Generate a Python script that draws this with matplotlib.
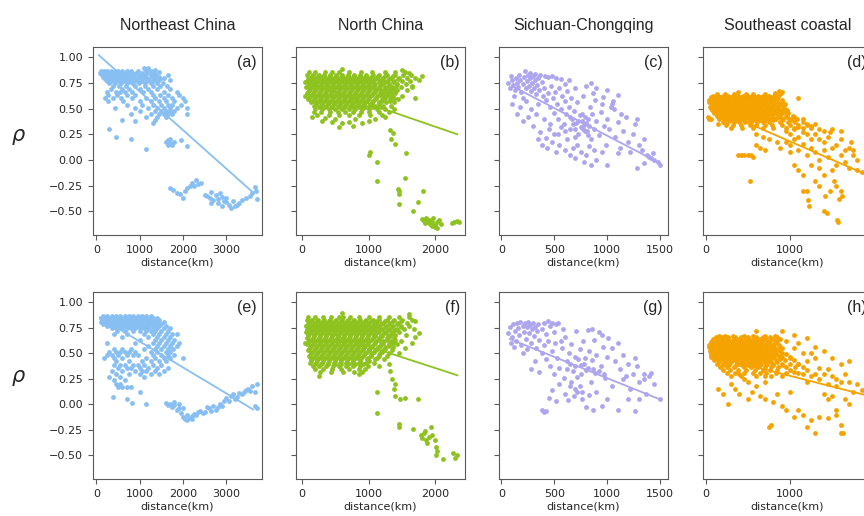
import numpy as np
import matplotlib.pyplot as plt

# ---------------------------------------------------------
# Data: rho vs distance (km)
# rows_* : (rho, [distances]) groups, pts_* : single (distance, rho) points
# ---------------------------------------------------------

titles = ["Northeast China", "North China", "Sichuan-Chongqing", "Southeast coastal"]
letters = ["(a)", "(b)", "(c)", "(d)", "(e)", "(f)", "(g)", "(h)"]
colors = ["#88BFF2", "#8DC21F", "#ADA5EE", "#F5A300"]

xlims = [(-77, 3823), (-89, 2447), (-23, 1578), (-32, 1973)]
xticks = [[0, 1000, 2000, 3000], [0, 1000, 2000], [0, 500, 1000, 1500], [0, 1000]]
yticks = [-0.5, -0.25, 0.0, 0.25, 0.5, 0.75, 1.0]

# --- (a) Northeast China, top row
rows_a = [
    (0.87, [100, 170, 240, 330, 420, 510, 600, 700, 800, 950, 1150, 1250]),
    (0.85, [90, 150, 220, 290, 370, 450, 540, 630, 720, 820, 920, 1050, 1180, 1320]),
    (0.83, [120, 190, 260, 340, 410, 480, 560, 650, 740, 850, 980, 1100, 1250, 1380]),
    (0.81, [160, 230, 300, 380, 460, 530, 610, 700, 790, 900, 1020, 1150, 1300, 1450]),
    (0.79, [200, 280, 350, 430, 510, 590, 680, 760, 870, 960, 1080, 1210, 1350, 1480]),
    (0.77, [240, 330, 420, 520, 640, 730, 820, 930, 1050, 1180, 1300, 1420]),
    (0.75, [300, 420, 560, 700, 850, 990, 1130, 1270, 1400, 1530]),
    (0.72, [380, 520, 680, 900, 1120, 1300, 1480, 1620]),
    (0.69, [330, 600, 760, 1000, 1200, 1400, 1700]),
    (0.66, [250, 450, 550, 650, 820, 1080, 1250, 1550, 1850]),
    (0.63, [280, 480, 700, 900, 1300, 1480, 1650, 1900]),
    (0.60, [200, 380, 560, 820, 1150, 1350, 1550, 1750, 2000]),
    (0.57, [260, 620, 1000, 1250, 1450, 1600, 1800, 2050]),
    (0.54, [700, 1050, 1300, 1500, 1650, 1750, 1950]),
    (0.51, [420, 900, 1200, 1400, 1550, 1700, 1850, 2100]),
    (0.48, [1000, 1350, 1500, 1600, 1700, 1800]),
    (0.45, [800, 1250, 1450, 1550, 1650, 1750, 2100]),
    (0.42, [1150, 1400, 1600]),
    (0.39, [600, 1350]),
    (0.36, [1300]),
]
pts_a = [
    (1100, 0.90), (1200, 0.90), (1350, 0.88), (1450, 0.86), (1650, 0.83), (1700, 0.78), (1550, 0.80),
    (300, 0.30), (450, 0.22), (800, 0.20), (1150, 0.11), (900, 0.38),
    (1600, 0.18), (1650, 0.15), (1700, 0.17), (1750, 0.15), (1800, 0.18), (1700, 0.20), (1950, 0.19),
    (2100, 0.14), (1650, 0.19),
    (1700, -0.27), (1780, -0.29), (1850, -0.32), (1930, -0.33), (2000, -0.37), (2050, -0.30),
    (2100, -0.27), (2150, -0.25), (2200, -0.22), (2250, -0.25), (2300, -0.19), (2350, -0.23),
    (2420, -0.22), (2500, -0.34), (2560, -0.35), (2620, -0.37), (2650, -0.31), (2700, -0.39),
    (2750, -0.34), (2800, -0.38), (2850, -0.32), (2900, -0.36), (2950, -0.40), (3000, -0.37),
    (3050, -0.44), (3100, -0.47), (3150, -0.40), (3200, -0.45), (3250, -0.44), (3300, -0.42),
    (3350, -0.39), (3450, -0.37), (3550, -0.35), (3600, -0.32), (3650, -0.26), (3700, -0.38),
    (3680, -0.30), (2900, -0.45), (3000, -0.41), (2800, -0.42), (2650, -0.42),
]
fit_a = ([60, 3600], [1.02, -0.31])

# --- (b) North China, top row
rows_b = [
    (0.86, [100, 200, 340, 450, 560, 700, 880, 1050, 1250, 1400, 1550]),
    (0.83, [80, 160, 250, 330, 420, 510, 600, 690, 780, 870, 960, 1060, 1160, 1280, 1400, 1520, 1630]),
    (0.815, [145, 235, 325, 415, 505, 595, 685, 775, 865, 955, 1045, 1145, 1245, 1365]),
    (0.80, [120, 210, 300, 390, 480, 570, 660, 750, 840, 930, 1020, 1120, 1220, 1330, 1450, 1580, 1700]),
    (0.785, [95, 185, 275, 365, 455, 545, 635, 725, 815, 905, 995, 1095, 1195, 1300, 1440]),
    (0.77, [70, 160, 250, 340, 430, 520, 610, 700, 790, 880, 970, 1070, 1170, 1270, 1380, 1500, 1620]),
    (0.755, [135, 225, 315, 405, 495, 585, 675, 765, 855, 945, 1040, 1150, 1250, 1360]),
    (0.74, [110, 200, 290, 380, 470, 560, 650, 740, 830, 920, 1010, 1100, 1200, 1300, 1420, 1560]),
    (0.725, [85, 175, 265, 355, 445, 535, 625, 715, 805, 895, 985, 1075, 1175, 1300, 1410]),
    (0.71, [60, 150, 240, 330, 420, 510, 600, 690, 780, 870, 960, 1050, 1150, 1250, 1350, 1480, 1650]),
    (0.695, [125, 215, 305, 395, 485, 575, 665, 755, 845, 935, 1025, 1120, 1240, 1360]),
    (0.68, [100, 190, 280, 370, 460, 550, 640, 730, 820, 910, 1000, 1090, 1190, 1300, 1420, 1580]),
    (0.665, [95, 185, 275, 365, 455, 545, 635, 725, 815, 905, 995, 1090, 1220, 1340]),
    (0.65, [80, 170, 260, 350, 440, 530, 620, 710, 800, 890, 980, 1070, 1170, 1280, 1400]),
    (0.635, [145, 235, 325, 415, 505, 595, 685, 775, 865, 955, 1050, 1170, 1290]),
    (0.62, [120, 210, 300, 390, 480, 570, 660, 750, 840, 930, 1020, 1120, 1230, 1350, 1500]),
    (0.605, [105, 195, 285, 375, 465, 555, 645, 735, 825, 915, 1005, 1110, 1250, 1380]),
    (0.59, [90, 180, 270, 360, 450, 540, 630, 720, 810, 900, 990, 1090, 1200, 1320, 1440]),
    (0.575, [165, 255, 345, 435, 525, 615, 705, 795, 885, 975, 1070, 1200, 1320]),
    (0.56, [140, 230, 320, 410, 500, 590, 680, 770, 860, 950, 1050, 1150, 1260, 1380]),
    (0.545, [205, 295, 385, 475, 565, 655, 745, 835, 925, 1030, 1160]),
    (0.53, [180, 270, 360, 450, 540, 630, 720, 810, 900, 1000, 1100, 1220, 1330]),
    (0.515, [250, 350, 450, 550, 650, 750, 850, 950, 1060, 1190]),
    (0.50, [200, 300, 400, 500, 600, 700, 800, 900, 1000, 1120, 1250, 1380]),
    (0.47, [180, 290, 420, 540, 650, 760, 880, 1000, 1150, 1300]),
    (0.44, [230, 400, 560, 700, 850, 1020, 1200]),
]
pts_b = [
    (1750, 0.78), (1700, 0.60), (1650, 0.72), (1600, 0.85), (1500, 0.88), (600, 0.89), (1800, 0.82),
    (50, 0.76), (40, 0.62),
    (300, 0.38), (450, 0.37), (500, 0.40), (600, 0.36), (700, 0.37), (800, 0.40), (900, 0.36),
    (350, 0.41), (1000, 0.38), (1100, 0.40), (1250, 0.42), (550, 0.32), (760, 0.33), (150, 0.42),
    (1320, 0.29), (1360, 0.26), (1390, 0.16), (1330, 0.20), (1560, 0.07), (1000, 0.05), (1020, 0.08),
    (1120, -0.02), (1120, -0.20), (1450, -0.30), (1460, -0.33), (1440, -0.28), (1450, -0.43),
    (1550, -0.18), (1740, -0.41), (1660, -0.50), (1810, -0.30),
    (1800, -0.57), (1830, -0.59), (1860, -0.56), (1880, -0.60), (1900, -0.58), (1920, -0.62),
    (1950, -0.60), (1970, -0.56), (2000, -0.63), (2020, -0.60), (2050, -0.58), (2030, -0.66),
    (2000, -0.65), (1950, -0.64), (1850, -0.61), (2080, -0.62), (2250, -0.61), (2280, -0.60),
    (2320, -0.59), (2350, -0.60),
]
fit_b = ([50, 2333], [0.76, 0.25])

# --- (c) Sichuan-Chongqing, top row
rows_c = []
pts_c = [
    (60, 0.75), (80, 0.70), (100, 0.78), (110, 0.73), (130, 0.68), (140, 0.80), (150, 0.75), (160, 0.71),
    (170, 0.83), (180, 0.78), (190, 0.66), (200, 0.74), (210, 0.81), (220, 0.87), (230, 0.70), (240, 0.77),
    (250, 0.83), (260, 0.72), (270, 0.80), (280, 0.67), (290, 0.75), (300, 0.82), (310, 0.70), (320, 0.78),
    (330, 0.64), (340, 0.73), (350, 0.80), (360, 0.68), (380, 0.76), (390, 0.62), (120, 0.62), (90, 0.82),
    (200, 0.60), (270, 0.85), (320, 0.84), (370, 0.83), (410, 0.82), (440, 0.81), (480, 0.82), (520, 0.80),
    (560, 0.79), (600, 0.74), (640, 0.78),
    (400, 0.70), (420, 0.58), (440, 0.65), (460, 0.52), (470, 0.72), (490, 0.60), (500, 0.46), (510, 0.66),
    (530, 0.55), (540, 0.40), (550, 0.70), (560, 0.50), (570, 0.62), (590, 0.35), (600, 0.57), (610, 0.45),
    (620, 0.67), (640, 0.52), (650, 0.30), (660, 0.60), (670, 0.40), (690, 0.48), (700, 0.70), (710, 0.36),
    (720, 0.56), (730, 0.25), (740, 0.44), (750, 0.32), (760, 0.38), (770, 0.30), (780, 0.34), (790, 0.42),
    (800, 0.36), (810, 0.28), (820, 0.40), (830, 0.33), (840, 0.52), (850, 0.20), (860, 0.45), (870, 0.65),
    (880, 0.30), (890, 0.58), (900, 0.38), (770, 0.62), (800, 0.72), (850, 0.75), (900, 0.70), (920, 0.24),
    (940, 0.47), (960, 0.61), (970, 0.33), (990, 0.15), (1000, 0.40),
    (100, 0.55), (150, 0.45), (180, 0.52), (200, 0.38), (230, 0.57), (250, 0.42), (280, 0.50), (300, 0.33),
    (330, 0.45), (350, 0.55), (370, 0.27), (400, 0.40), (420, 0.21), (450, 0.30), (480, 0.18), (350, 0.20),
    (380, 0.15), (500, 0.25), (430, 0.12), (460, 0.35), (520, 0.08), (550, 0.15), (600, 0.10), (620, 0.20),
    (650, 0.05), (680, 0.12), (700, 0.02), (720, 0.15), (750, 0.08), (780, -0.02), (800, 0.05), (830, 0.14),
    (850, -0.05), (880, 0.10), (900, 0.00), (950, 0.08), (1000, -0.05),
    (1020, 0.30), (1040, 0.52), (1050, 0.55), (1060, 0.57), (1070, 0.50), (1080, 0.22), (1100, 0.37),
    (1120, 0.12), (1150, 0.28), (1180, 0.42), (1200, 0.18), (1220, 0.08), (1250, 0.25), (1270, 0.35),
    (1280, 0.40), (1300, 0.15), (1330, 0.10), (1350, 0.20), (1380, 0.05), (1400, 0.03), (1420, 0.02),
    (1450, 0.00), (1480, -0.02), (1500, -0.05), (1440, 0.07), (1350, -0.03), (1280, -0.08), (1100, 0.07),
    (1130, 0.45), (950, 0.55), (1000, 0.68), (1100, 0.63),
    (650, 0.42), (700, 0.30), (730, 0.38), (760, 0.45), (790, 0.28), (820, 0.24), (700, 0.22), (680, 0.35),
    (600, 0.28), (560, 0.32), (540, 0.25),
]
fit_c = ([100, 1500], [0.72, -0.03])

# --- (d) Southeast coastal, top row
rows_d = [
    (0.64, [130, 230, 330, 480, 560, 700, 820, 880]),
    (0.625, [90, 150, 200, 260, 320, 380, 440, 500, 560, 620, 680, 750, 820]),
    (0.61, [60, 110, 170, 230, 290, 350, 410, 470, 530, 590, 650, 720, 790, 860]),
    (0.595, [60, 120, 180, 240, 300, 360, 420, 480, 540, 600, 660, 720, 780, 850]),
    (0.58, [40, 90, 150, 210, 270, 330, 390, 450, 510, 570, 630, 690, 750, 820, 900]),
    (0.565, [40, 100, 160, 220, 280, 340, 400, 460, 520, 580, 640, 700, 770, 840, 910]),
    (0.55, [70, 130, 190, 250, 310, 370, 430, 490, 550, 610, 670, 730, 800, 870, 940]),
    (0.535, [80, 140, 200, 260, 320, 380, 440, 500, 560, 620, 680, 740, 810, 880]),
    (0.52, [50, 110, 170, 230, 290, 350, 410, 470, 530, 590, 650, 710, 780, 850, 920]),
    (0.505, [60, 110, 170, 230, 290, 350, 410, 470, 530, 590, 650, 710, 780, 850, 930]),
    (0.49, [80, 140, 200, 260, 320, 380, 440, 500, 560, 620, 680, 740, 810, 880, 960]),
    (0.475, [110, 170, 230, 290, 350, 410, 470, 530, 590, 650, 710, 780, 850, 930]),
    (0.46, [100, 160, 220, 280, 340, 400, 460, 520, 580, 640, 700, 760, 830, 900, 980]),
    (0.445, [130, 190, 250, 310, 370, 430, 490, 550, 610, 670, 730, 800, 880, 970]),
    (0.43, [130, 190, 250, 310, 370, 430, 490, 550, 610, 670, 730, 790, 860, 950, 1030]),
    (0.415, [190, 250, 310, 370, 430, 490, 550, 610, 670, 730, 800, 880, 960, 1050]),
    (0.40, [40, 160, 220, 280, 340, 400, 460, 520, 580, 640, 700, 760, 830, 920, 1000, 1080]),
    (0.385, [230, 300, 370, 440, 510, 580, 650, 720, 800, 900, 1000]),
    (0.37, [200, 260, 330, 400, 470, 540, 610, 680, 750, 880, 980, 1060, 1150]),
    (0.34, [240, 320, 420, 520, 600, 700, 790, 900, 1000, 1100, 1200]),
    (0.31, [300, 430, 560, 680, 800, 950, 1050, 1150, 1250]),
]
pts_d = [
    (870, 0.67), (900, 0.66), (820, 0.65), (1100, 0.60), (380, 0.66), (60, 0.40), (30, 0.42), (150, 0.35),
    (950, 0.28), (1000, 0.25), (1050, 0.30), (1100, 0.22), (1150, 0.27), (1200, 0.35), (1250, 0.20),
    (1300, 0.25), (1350, 0.30), (1400, 0.18), (1450, 0.22), (1500, 0.30), (1550, 0.15), (1600, 0.20),
    (1650, 0.10), (1700, 0.12), (1750, 0.05), (1800, 0.00), (1000, 0.15), (1050, 0.20), (1100, 0.10),
    (1150, 0.16), (1200, 0.05), (1250, 0.12), (1300, 0.08), (1350, 0.00), (1400, 0.10), (1450, 0.03),
    (1500, 0.12), (1550, -0.05), (1600, 0.05), (1650, -0.02), (1700, -0.08), (1750, 0.10), (1050, 0.38),
    (1150, 0.40), (1250, 0.33), (1350, 0.20), (1480, 0.27), (1600, 0.28), (1720, 0.18), (1800, -0.10),
    (1850, -0.12), (1000, 0.08), (950, 0.18), (1100, 0.32), (1200, 0.25), (1300, 0.35), (1400, 0.28),
    (380, 0.05), (420, 0.05), (460, 0.05), (500, 0.05), (540, 0.05), (560, 0.03), (530, -0.20),
    (600, 0.15), (650, 0.12), (700, 0.10), (750, 0.20), (680, 0.22), (850, 0.18), (880, 0.12), (600, 0.25),
    (1050, -0.05), (1100, -0.10), (1150, -0.15), (1200, -0.30), (1210, -0.39), (1230, -0.45),
    (1300, -0.20), (1350, -0.25), (1400, -0.15), (1420, -0.35), (1440, -0.52), (1480, -0.30),
    (1500, -0.10), (1520, -0.20), (1550, -0.25), (1560, -0.58), (1570, -0.60), (1580, -0.38),
    (1600, -0.30), (1620, -0.35), (1400, -0.50), (1250, -0.05), (1350, -0.08), (1150, -0.30),
]
fit_d = ([50, 1900], [0.52, -0.14])

# --- (e) Northeast China, bottom row
rows_e = [
    (0.87, [150, 250, 350, 450, 550, 650, 750, 850, 950, 1050, 1150, 1250]),
    (0.85, [100, 180, 260, 340, 420, 500, 580, 660, 740, 820, 900, 980, 1060, 1140, 1220, 1300, 1400]),
    (0.83, [130, 210, 290, 370, 450, 530, 610, 690, 770, 850, 930, 1010, 1090, 1170, 1250, 1350, 1450]),
    (0.81, [110, 190, 270, 350, 430, 510, 590, 670, 750, 830, 910, 990, 1070, 1150, 1230, 1320, 1420, 1550]),
    (0.79, [150, 230, 310, 390, 470, 550, 630, 710, 790, 870, 950, 1030, 1110, 1190, 1280, 1380, 1500]),
    (0.77, [250, 330, 410, 490, 570, 650, 730, 810, 890, 970, 1050, 1130, 1220, 1320, 1450, 1600]),
    (0.75, [350, 450, 600, 700, 800, 900, 1000, 1100, 1200, 1300, 1400, 1550, 1700]),
    (0.72, [480, 650, 850, 1000, 1150, 1250, 1350, 1500, 1650]),
    (0.69, [400, 700, 1100, 1300, 1450, 1600, 1750, 1850]),
    (0.66, [600, 1200, 1400, 1550, 1700]),
    (0.63, [1000, 1350, 1500, 1650, 1800]),
    (0.60, [250, 900, 1300, 1450, 1600, 1750, 1900]),
    (0.57, [1200, 1400, 1550, 1700, 1850]),
    (0.54, [400, 600, 800, 1100, 1350, 1500, 1650, 1780]),
    (0.51, [300, 450, 550, 650, 750, 900, 1250, 1400, 1600, 1700]),
    (0.48, [250, 350, 500, 700, 850, 950, 1300, 1500, 1650, 1800]),
    (0.45, [180, 400, 600, 1150, 1350, 1550, 1700, 2000]),
    (0.42, [450, 750, 1050, 1250, 1450, 1600]),
    (0.39, [400, 550, 650, 850, 950, 1100, 1300, 1500]),
    (0.36, [500, 700, 800, 1000, 1200, 1400, 1650]),
    (0.33, [350, 600, 900, 1050, 1150, 1350, 1550]),
    (0.30, [450, 750, 1000, 1250, 1450]),
    (0.27, [300, 550, 1100]),
    (0.24, [400, 650]),
    (0.20, [450, 550]),
    (0.17, [500, 600, 700, 800]),
]
pts_e = [
    (380, 0.07), (700, 0.05), (830, 0.01), (1150, 0.00), (1000, 0.12),
    (1600, 0.01), (1650, -0.01), (1700, 0.00), (1750, -0.03), (1800, -0.01), (1850, -0.05), (1900, -0.04),
    (1950, -0.08), (2000, -0.12), (2050, -0.14), (2100, -0.10), (2150, -0.13), (2200, -0.11),
    (2250, -0.09), (2300, -0.10), (2350, -0.07), (2400, -0.06), (2450, -0.08), (2500, -0.07),
    (2550, -0.03), (2600, -0.04), (2650, -0.06), (2700, -0.02), (2750, -0.05), (2800, -0.03),
    (2850, 0.00), (2900, -0.02), (2950, 0.03), (3000, 0.06), (3050, 0.03), (3100, 0.08), (3150, 0.10),
    (3200, 0.05), (3250, 0.07), (3300, 0.11), (3350, 0.10), (3400, 0.12), (3450, 0.14), (3500, 0.15),
    (3550, 0.13), (3600, 0.18), (3650, 0.12), (3700, 0.20), (3650, -0.02), (3700, -0.04),
    (2100, -0.15), (2200, -0.14), (1800, 0.02), (2000, -0.04), (1900, 0.00),
]
fit_e = ([80, 3620], [0.85, -0.05])

# --- (f) North China, bottom row
rows_f = [
    (0.86, [90, 190, 320, 430, 560, 620, 720, 860, 1000, 1150, 1300, 1450, 1600]),
    (0.83, [70, 150, 240, 330, 420, 510, 600, 690, 780, 870, 960, 1060, 1160, 1270, 1380, 1500, 1650]),
    (0.815, [130, 220, 310, 400, 490, 580, 670, 760, 850, 940, 1030, 1130, 1240, 1360, 1480]),
    (0.80, [110, 200, 290, 380, 470, 560, 650, 740, 830, 920, 1010, 1110, 1210, 1320, 1440, 1570]),
    (0.785, [85, 175, 265, 355, 445, 535, 625, 715, 805, 895, 985, 1085, 1190, 1310, 1420]),
    (0.77, [60, 150, 240, 330, 420, 510, 600, 690, 780, 870, 960, 1060, 1160, 1260, 1370, 1480, 1600]),
    (0.755, [125, 215, 305, 395, 485, 575, 665, 755, 845, 935, 1030, 1130, 1240, 1350, 1480]),
    (0.74, [100, 190, 280, 370, 460, 550, 640, 730, 820, 910, 1000, 1100, 1200, 1300, 1420, 1530, 1680]),
    (0.725, [80, 165, 255, 345, 435, 525, 615, 705, 795, 885, 975, 1070, 1170, 1290, 1400]),
    (0.71, [60, 140, 230, 320, 410, 500, 590, 680, 770, 860, 950, 1040, 1140, 1240, 1350, 1460]),
    (0.695, [115, 205, 295, 385, 475, 565, 655, 745, 835, 925, 1015, 1110, 1230, 1350]),
    (0.68, [90, 180, 270, 360, 450, 540, 630, 720, 810, 900, 990, 1080, 1180, 1290, 1400, 1560]),
    (0.665, [90, 180, 270, 360, 450, 540, 630, 720, 810, 900, 990, 1090, 1200, 1320]),
    (0.65, [70, 160, 250, 340, 430, 520, 610, 700, 790, 880, 970, 1060, 1160, 1270, 1380]),
    (0.635, [130, 220, 310, 400, 490, 580, 670, 760, 850, 940, 1040, 1150, 1280, 1400]),
    (0.62, [110, 200, 290, 380, 470, 560, 650, 740, 830, 920, 1010, 1110, 1220, 1340, 1480]),
    (0.605, [95, 185, 275, 365, 455, 545, 635, 725, 815, 905, 995, 1100, 1210, 1360]),
    (0.59, [80, 170, 260, 350, 440, 530, 620, 710, 800, 890, 980, 1080, 1190, 1300, 1420]),
    (0.575, [140, 230, 320, 410, 500, 590, 680, 770, 860, 950, 1050, 1170, 1300]),
    (0.56, [120, 210, 300, 390, 480, 570, 660, 750, 840, 930, 1030, 1140, 1250, 1360]),
    (0.545, [105, 195, 285, 375, 465, 555, 645, 735, 825, 915, 1010, 1120, 1240]),
    (0.53, [90, 180, 270, 360, 450, 540, 630, 720, 810, 900, 1000, 1100, 1220, 1350]),
    (0.515, [150, 240, 330, 420, 510, 600, 690, 780, 870, 970, 1080, 1200]),
    (0.50, [130, 220, 310, 400, 490, 580, 670, 760, 850, 950, 1050, 1170, 1300]),
    (0.485, [115, 205, 295, 385, 475, 565, 655, 745, 835, 935, 1040, 1160]),
    (0.47, [100, 190, 280, 370, 460, 550, 640, 730, 820, 920, 1030, 1150, 1280]),
    (0.455, [165, 255, 345, 435, 525, 615, 705, 795, 885, 990, 1120]),
    (0.44, [140, 230, 320, 410, 500, 590, 680, 770, 860, 970, 1100, 1230]),
    (0.425, [140, 230, 320, 410, 500, 590, 680, 770, 870, 1000]),
    (0.41, [120, 210, 300, 390, 480, 570, 660, 750, 850, 960, 1080]),
    (0.395, [190, 290, 390, 490, 590, 690, 800, 920]),
    (0.38, [160, 260, 360, 460, 560, 660, 760, 870, 990]),
    (0.35, [200, 320, 450, 580, 700, 850, 950]),
    (0.32, [270, 430, 620, 780, 900]),
]
pts_f = [
    (1700, 0.82), (1750, 0.70), (1650, 0.60), (1700, 0.66), (1550, 0.55), (1450, 0.50), (1600, 0.88),
    (600, 0.89), (40, 0.60), (260, 0.28), (850, 0.30), (1150, 0.38), (1300, 0.40),
    (1320, 0.33), (1350, 0.25), (1400, 0.20), (1380, 0.15), (1120, 0.12), (1120, -0.08), (1400, 0.08),
    (1470, 0.05), (1550, 0.06), (1740, 0.05), (1450, -0.19), (1450, -0.22), (1660, -0.24),
    (1780, -0.30), (1800, -0.33), (1830, -0.28), (1860, -0.35), (1900, -0.32), (1880, -0.38),
    (1930, -0.22), (1950, -0.30), (1990, -0.35), (2010, -0.42), (2020, -0.46), (2010, -0.50),
    (2110, -0.53), (2260, -0.48), (2300, -0.52), (2330, -0.50), (1840, -0.26),
]
fit_f = ([50, 2333], [0.77, 0.285])

# --- (g) Sichuan-Chongqing, bottom row
rows_g = []
pts_g = [
    (60, 0.70), (80, 0.76), (100, 0.66), (110, 0.79), (130, 0.72), (140, 0.62), (150, 0.80), (160, 0.75),
    (170, 0.68), (180, 0.81), (190, 0.58), (200, 0.77), (210, 0.71), (220, 0.80), (230, 0.64), (240, 0.76),
    (250, 0.81), (260, 0.70), (270, 0.78), (280, 0.60), (290, 0.74), (300, 0.80), (310, 0.67), (320, 0.76),
    (330, 0.55), (340, 0.72), (350, 0.79), (360, 0.63), (380, 0.74), (400, 0.80), (420, 0.69), (440, 0.82),
    (460, 0.77), (480, 0.80), (500, 0.71), (520, 0.79), (540, 0.80), (560, 0.62), (580, 0.74), (120, 0.56),
    (90, 0.60), (240, 0.54), (200, 0.50),
    (380, 0.50), (400, 0.58), (420, 0.44), (440, 0.62), (460, 0.38), (480, 0.52), (500, 0.30), (510, 0.60),
    (530, 0.45), (550, 0.36), (570, 0.55), (590, 0.26), (600, 0.66), (620, 0.42), (640, 0.50), (650, 0.18),
    (660, 0.59), (680, 0.33), (700, 0.46), (710, 0.72), (720, 0.27), (740, 0.54), (750, 0.39), (760, 0.12),
    (770, 0.62), (790, 0.45), (800, 0.34), (820, 0.73), (830, 0.52), (850, 0.22), (860, 0.43), (880, 0.63),
    (890, 0.31), (900, 0.48), (920, 0.71), (940, 0.38), (960, 0.56), (980, 0.26), (1000, 0.46),
    (1010, 0.65), (950, 0.68), (860, 0.74),
    (280, 0.35), (320, 0.42), (360, 0.32), (380, -0.05), (400, -0.07), (420, -0.06), (450, 0.06),
    (480, 0.14), (520, 0.03), (550, 0.20), (600, 0.10), (630, 0.04), (660, 0.22), (690, 0.08), (700, 0.15),
    (720, 0.12), (740, 0.18), (760, 0.05), (800, -0.03), (830, 0.09), (870, -0.05), (900, 0.12),
    (950, -0.02), (1000, 0.05), (1050, 0.18), (1100, -0.05), (1150, 0.25),
    (1050, 0.55), (1080, 0.42), (1100, 0.60), (1120, 0.35), (1150, 0.48), (1180, 0.28), (1200, 0.40),
    (1220, 0.15), (1250, 0.30), (1270, 0.45), (1280, 0.38), (1300, 0.22), (1350, 0.30), (1370, 0.10),
    (1400, 0.28), (1420, 0.31), (1450, 0.20), (1500, 0.05), (1270, -0.06), (1300, 0.05), (1350, 0.25),
    (1200, 0.05),
    (650, 0.40), (700, 0.38), (730, 0.44), (780, 0.40), (820, 0.36), (870, 0.35), (920, 0.33), (970, 0.30),
    (750, 0.30), (620, 0.35),
]
fit_g = ([80, 1500], [0.64, 0.05])

# --- (h) Southeast coastal, bottom row
rows_h = [
    (0.67, [160, 230, 320, 460, 560, 700, 820]),
    (0.655, [120, 190, 260, 350, 420, 500, 600, 680, 760, 850]),
    (0.64, [90, 150, 210, 270, 330, 390, 450, 510, 570, 640, 720, 800, 880]),
    (0.625, [70, 130, 190, 250, 310, 370, 430, 490, 550, 610, 680, 760, 850]),
    (0.61, [60, 120, 180, 240, 300, 360, 420, 480, 540, 600, 660, 740, 830]),
    (0.595, [60, 120, 180, 240, 300, 360, 420, 480, 540, 600, 660, 730, 810]),
    (0.58, [40, 90, 150, 210, 270, 330, 390, 450, 510, 570, 630, 700, 780, 870]),
    (0.565, [40, 100, 160, 220, 280, 340, 400, 460, 520, 580, 650, 720, 800, 880]),
    (0.55, [70, 130, 190, 250, 310, 370, 430, 490, 550, 610, 670, 740, 820, 900]),
    (0.535, [80, 140, 200, 260, 320, 380, 440, 500, 560, 620, 690, 760, 840]),
    (0.52, [50, 110, 170, 230, 290, 350, 410, 470, 530, 590, 650, 720, 800, 880]),
    (0.505, [60, 110, 170, 230, 290, 350, 410, 470, 530, 590, 650, 720, 800, 900]),
    (0.49, [80, 140, 200, 260, 320, 380, 440, 500, 560, 620, 680, 750, 830, 950]),
    (0.475, [90, 150, 210, 270, 330, 390, 450, 510, 570, 630, 700, 780, 870]),
    (0.46, [60, 120, 180, 240, 300, 360, 420, 480, 540, 600, 660, 730, 810, 900, 1000]),
    (0.445, [130, 190, 250, 310, 380, 450, 520, 580, 640, 700, 780, 880]),
    (0.43, [100, 160, 220, 280, 350, 420, 490, 550, 610, 670, 740, 830, 940, 1050]),
    (0.415, [160, 230, 300, 370, 440, 510, 570, 630, 700, 770, 850]),
    (0.40, [130, 200, 270, 400, 470, 540, 600, 660, 730, 800, 900, 1000, 1100]),
    (0.385, [200, 280, 360, 430, 500, 570, 640, 720, 800, 900]),
    (0.37, [170, 250, 330, 460, 540, 620, 700, 780, 860, 950, 1060, 1150]),
    (0.34, [200, 290, 380, 480, 580, 680, 760, 850, 1000, 1200]),
    (0.31, [250, 350, 450, 560, 650, 720, 830, 950, 1100]),
    (0.28, [300, 420, 600, 700, 780, 900]),
]
pts_h = [
    (900, 0.72), (1050, 0.68), (1200, 0.65), (600, 0.72), (950, 0.62), (1100, 0.60), (1300, 0.56),
    (1250, 0.50), (1150, 0.50), (1400, 0.52), (1500, 0.45), (1600, 0.40), (1700, 0.42), (1650, 0.30),
    (1550, 0.25), (1050, 0.55), (1000, 0.45),
    (1050, 0.32), (1150, 0.30), (1250, 0.28), (1300, 0.30), (1350, 0.25), (1400, 0.30), (1450, 0.20),
    (1500, 0.28), (1550, 0.18), (1600, 0.22), (1700, 0.22), (1750, 0.12), (1800, 0.20), (1850, 0.14),
    (1350, 0.36), (1450, 0.35), (1100, 0.40), (1200, 0.42), (1300, 0.45), (1200, 0.22), (1400, 0.10),
    (1500, 0.08), (1650, 0.05), (1700, 0.00), (1550, -0.05), (1450, 0.05),
    (150, 0.15), (200, 0.10), (260, 0.00), (300, 0.20), (350, 0.15), (400, 0.10), (450, 0.25), (500, 0.05),
    (550, 0.12), (600, 0.18), (650, 0.08), (700, 0.05), (750, -0.22), (780, -0.20), (800, 0.02),
    (850, 0.10), (900, -0.02), (950, -0.05), (1000, 0.12), (1050, -0.12), (1100, -0.05), (1150, -0.10),
    (1200, -0.22), (1250, -0.15), (1300, -0.28), (1350, -0.12), (1450, -0.13), (1550, -0.10),
    (1600, -0.20), (1610, -0.28), (1630, -0.28), (400, 0.30), (500, 0.22), (700, 0.22),
]
fit_h = ([50, 1900], [0.48, 0.09])

all_rows = [rows_a, rows_b, rows_c, rows_d, rows_e, rows_f, rows_g, rows_h]
all_pts = [pts_a, pts_b, pts_c, pts_d, pts_e, pts_f, pts_g, pts_h]
all_fits = [fit_a, fit_b, fit_c, fit_d, fit_e, fit_f, fit_g, fit_h]


def collect(rows, pts):
    xs = [x for y, xl in rows for x in xl] + [p[0] for p in pts]
    ys = [y for y, xl in rows for x in xl] + [p[1] for p in pts]
    return np.array(xs, dtype=float), np.array(ys, dtype=float)


# ---------------------------------------------------------
# Layout (pixel boxes of the panels in the 864x516 figure)
# ---------------------------------------------------------

W, H = 864, 516
lefts = [93, 296, 499, 703]
tops = [47, 292]
heights = [188, 187]
panel_w = 169

spine_col = "#5a5a5a"
text_col = "#262626"

fig = plt.figure(figsize=(W / 100, H / 100), dpi=100)

for r in range(2):
    for c in range(4):
        i = r * 4 + c
        ax = fig.add_axes([lefts[c] / W, 1 - (tops[r] + heights[r]) / H,
                           panel_w / W, heights[r] / H])

        dist, rho = collect(all_rows[i], all_pts[i])
        fx, fy = all_fits[i]
        ax.plot(fx, fy, color=colors[c], lw=1.3, zorder=2)
        ax.scatter(dist, rho, s=12, color=colors[c], linewidths=0, zorder=3)

        ax.set_xlim(*xlims[c])
        ax.set_ylim(-0.73, 1.10)
        ax.set_xticks(xticks[c])
        ax.set_yticks(yticks)
        if c > 0:
            ax.set_yticklabels([])
        ax.tick_params(labelsize=8, colors=spine_col, labelcolor=text_col)
        for sp in ax.spines.values():
            sp.set_color(spine_col)
        ax.set_xlabel("distance(km)", fontsize=8, color=text_col, labelpad=2)

        # panel letter (the right column is cut by the figure edge, as in the source)
        ax.text(0.97, 0.955, letters[i], transform=ax.transAxes, ha="right", va="top",
                fontsize=11.5, family="Liberation Sans", color=text_col)
        if r == 0:
            ax.set_title(titles[c], fontsize=11.5, family="Liberation Sans",
                         color=text_col, pad=12)

# rho labels at the left of each row
fig.text(19 / W, 1 - 137 / H, r"$\rho$", fontsize=15, ha="center", va="center", color=text_col)
fig.text(19 / W, 1 - 378 / H, r"$\rho$", fontsize=15, ha="center", va="center", color=text_col)

fig.savefig("out.png", dpi=100)
